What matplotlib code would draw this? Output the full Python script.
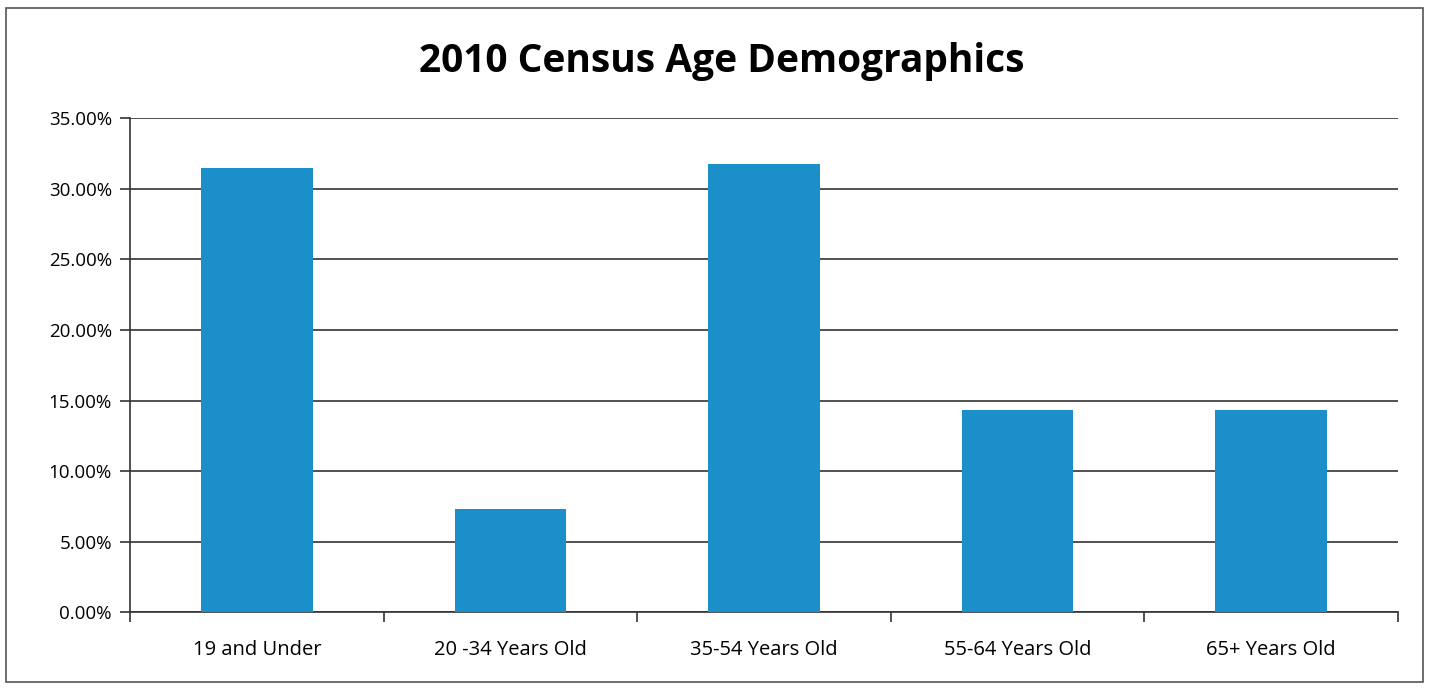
import matplotlib
matplotlib.use('Agg')
import matplotlib.pyplot as plt
from matplotlib.patches import Rectangle
from matplotlib.ticker import FuncFormatter, FixedLocator
import numpy as np

plt.rcParams['font.family'] = ['Open Sans', 'DejaVu Sans']

categories = ['19 and Under', '20 -34 Years Old', '35-54 Years Old', '55-64 Years Old', '65+ Years Old']
values = [31.5, 7.3, 31.8, 14.3, 14.3]
title = '2010 Census Age Demographics'

fig = plt.figure(figsize=(14.29, 6.88), dpi=100)
ax = fig.add_axes([0.091, 0.110, 0.887, 0.718])

# outer frame of the chart
fig.patches.append(Rectangle((0.004, 0.008), 0.992, 0.98, transform=fig.transFigure,
                             fill=False, edgecolor='#555555', linewidth=1.2))

x = np.arange(len(categories))
ax.bar(x, values, width=0.44, color='#1a8fc9', zorder=3)

ax.set_xlim(-0.5, len(categories) - 0.5)
ax.set_ylim(0, 35)
ax.set_yticks(np.arange(0, 35.01, 5))
ax.yaxis.set_major_formatter(FuncFormatter(lambda v, p: f'{v:.2f}%'))
ax.grid(axis='y', color='#333333', linewidth=1.2, zorder=1)

ax.set_xticks(x)
ax.set_xticklabels(categories, fontsize=14.5)
ax.xaxis.set_minor_locator(FixedLocator(np.arange(-0.5, len(categories), 1.0)))
ax.tick_params(axis='x', which='major', length=0, pad=20)
ax.tick_params(axis='x', which='minor', length=7, width=1.2, color='#333333')
ax.tick_params(axis='y', labelsize=13.5, length=7, width=1.2, color='#333333', pad=6)

for s in ['top', 'right']:
    ax.spines[s].set_visible(False)
for s in ['left', 'bottom']:
    ax.spines[s].set_color('#333333')
    ax.spines[s].set_linewidth(1.2)

fig.text(0.505, 0.91, title, ha='center', va='center', fontsize=28, fontweight='bold')

fig.savefig('out.png', dpi=100)
